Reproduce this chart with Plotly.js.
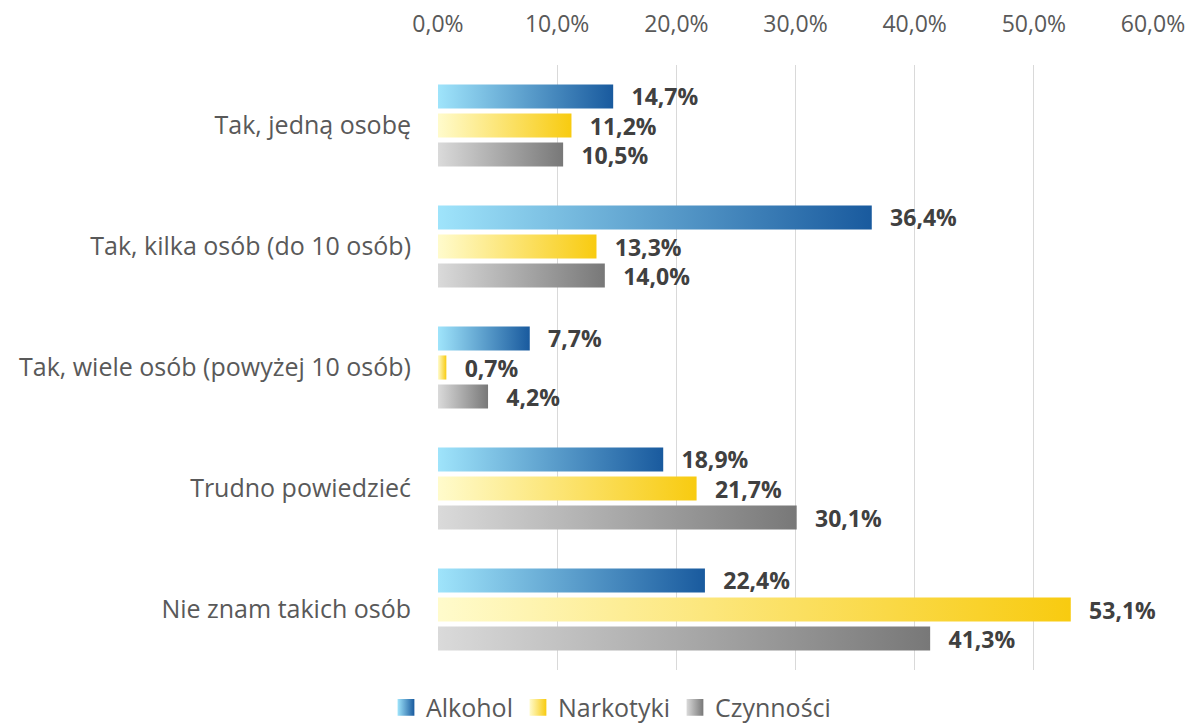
<!DOCTYPE html>
<html>
<head>
<meta charset="utf-8">
<script src="https://cdn.plot.ly/plotly-3.0.1.min.js"></script>
<style>html,body{margin:0;padding:0;background:#fff;}#chart{width:1198px;height:726px;}</style>
</head>
<body>
<div id="chart"></div>
<svg width="0" height="0" style="position:absolute">
  <defs>
    <linearGradient id="grad0" x1="0" y1="0" x2="1" y2="0"><stop offset="0" stop-color="#9fe4fb"/><stop offset="1" stop-color="#195a9e"/></linearGradient>
    <linearGradient id="grad1" x1="0" y1="0" x2="1" y2="0"><stop offset="0" stop-color="#fffbcc"/><stop offset="1" stop-color="#f8cb10"/></linearGradient>
    <linearGradient id="grad2" x1="0" y1="0" x2="1" y2="0"><stop offset="0" stop-color="#dadada"/><stop offset="1" stop-color="#787878"/></linearGradient>
  </defs>
</svg>
<script>
const categories = ["Tak, jedną osobę", "Tak, kilka osób (do 10 osób)", "Tak, wiele osób (powyżej 10 osób)", "Trudno powiedzieć", "Nie znam takich osób"];
const seriesNames = ["Alkohol", "Narkotyki", "Czynności"];
const alkohol = [14.7, 36.4, 7.7, 18.9, 22.4];
const narkotyki = [11.2, 13.3, 0.7, 21.7, 53.1];
const czynnosci = [10.5, 14.0, 4.2, 30.1, 41.3];
const tickVals = [0, 10, 20, 30, 40, 50, 60];
const tickText = ["0,0%", "10,0%", "20,0%", "30,0%", "40,0%", "50,0%", "60,0%"];
const baseColors = ["#3f86c2", "#fbe27a", "#a9a9a9"];

const values = [alkohol, narkotyki, czynnosci];
const font = "'Open Sans', 'Noto Sans', sans-serif";
const traces = values.map((v, i) => ({
  type: "bar",
  orientation: "h",
  name: seriesNames[i],
  y: categories,
  x: v,
  marker: {color: baseColors[i], line: {width: 0}},
  text: v.map(x => "\u2002\u2009" + x.toFixed(1).replace(".", ",") + "%"),
  textposition: "outside",
  constraintext: "none",
  cliponaxis: false,
  textfont: {family: font, size: 23, color: "#404040", weight: "bold"},
  hoverinfo: "skip"
}));

const layout = {
  width: 1198, height: 726,
  margin: {l: 438, r: 45, t: 65, b: 56},
  paper_bgcolor: "#fff", plot_bgcolor: "#fff",
  barmode: "group",
  bargap: 0.28,
  bargroupgap: 0.17,
  font: {family: font, size: 24, color: "#595959"},
  xaxis: {
    side: "top", range: [0, 60], tickvals: tickVals, ticktext: tickText,
    showgrid: true, gridcolor: "#d9d9d9", gridwidth: 1.3, zeroline: false,
    showline: false, ticks: "", ticklabelstandoff: 27,
    tickfont: {family: font, size: 23, color: "#595959"}, fixedrange: true
  },
  yaxis: {
    autorange: "reversed", showgrid: false, zeroline: false, showline: false,
    ticks: "", ticklabelstandoff: 26,
    tickfont: {family: font, size: 25, color: "#595959"}, fixedrange: true
  },
  showlegend: true,
  legend: {
    orientation: "h", xref: "container", yref: "container", x: 0.51, xanchor: "center",
    y: 0.057, yanchor: "top", font: {family: font, size: 25, color: "#595959"},
    itemwidth: 30, traceorder: "normal"
  },
  hovermode: false
};

Plotly.newPlot("chart", traces, layout, {displayModeBar: false, staticPlot: true}).then(gd => {
  const tr = gd.querySelectorAll(".barlayer .trace");
  tr.forEach((t, i) => {
    t.querySelectorAll("path").forEach(p => { p.style.fill = "url(#grad" + i + ")"; });
  });
  const lg = gd.querySelectorAll(".legend .traces");
  lg.forEach((t, i) => {
    t.querySelectorAll(".legendpoints path").forEach(p => {
      p.style.fill = "url(#grad" + i + ")"; p.style.stroke = "none";
      const tf = p.getAttribute("transform") || "";
      p.setAttribute("transform", tf + " scale(1.4)");
    });
  });
});
</script>
</body>
</html>
